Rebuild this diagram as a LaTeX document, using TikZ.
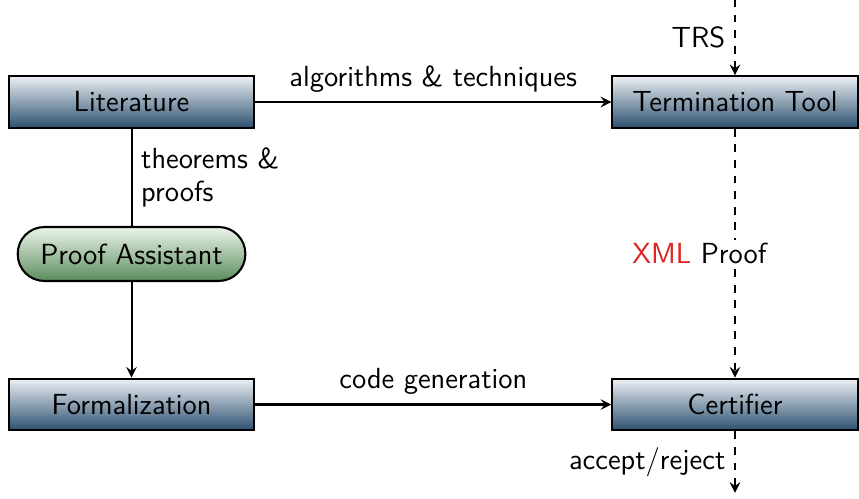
\documentclass[tikz,border=0pt]{standalone}
\usepackage{amsmath}
\usepackage{amssymb}
\renewcommand{\familydefault}{\sfdefault}
\usepackage{tikz}
\usetikzlibrary{calc}

\definecolor{boxtop}{RGB}{236,240,244}
\definecolor{boxbottom}{RGB}{44,80,112}
\definecolor{greentop}{RGB}{236,245,236}
\definecolor{greenbottom}{RGB}{92,140,92}
\definecolor{xmlred}{RGB}{222,36,36}

\begin{document}
\begin{tikzpicture}[line width=0.8pt, >=stealth, font=\fontsize{11.2}{12.8}\selectfont,
    block/.style={draw, rectangle, minimum width=3.32cm, minimum height=0.70cm,
                  top color=boxtop, bottom color=boxbottom},
    tool/.style={draw, rounded corners=0.36cm,
                 minimum width=3.08cm, minimum height=0.73cm,
                 top color=greentop, bottom color=greenbottom},
    flow/.style={dashed, ->}]

            \useasboundingbox (0,0) rectangle (11.624,-6.739);

            % Blocks
            \node[block] (lit) at (1.780,-1.380) {Literature};
            \node[block] (term) at (9.946,-1.380) {Termination Tool};
            \node[tool] (assist) at (1.780,-3.437) {Proof Assistant};
            \node[block] (formal) at (1.780,-5.474) {Formalization};
            \node[block] (cert) at (9.946,-5.474) {Certifier};

            % Solid connectors
            \draw[->] (lit.east) -- node[above] {algorithms \& techniques} (term.west);
            \draw (lit.south) -- node[right, align=left] {theorems \&\\proofs} (assist.north);
            \draw[->] (assist.south) -- (formal.north);
            \draw[->] (formal.east) -- node[above] {code generation} (cert.west);

            % Input and output
            \coordinate (trsin) at ($(term.north)+(0,1.380-0.350)$);
            \coordinate (result) at ($(cert.south)+(0,-0.830)$);
            \draw[flow] (trsin) -- node[left] {TRS} (term.north);
            \draw[flow] (term.south) -- node[fill=white, inner sep=1pt, xshift=-0.48cm] {\textcolor{xmlred}{XML} Proof} (cert.north);
            \draw[flow] (cert.south) -- node[left] {accept/reject} (result);
\end{tikzpicture}
\end{document}
